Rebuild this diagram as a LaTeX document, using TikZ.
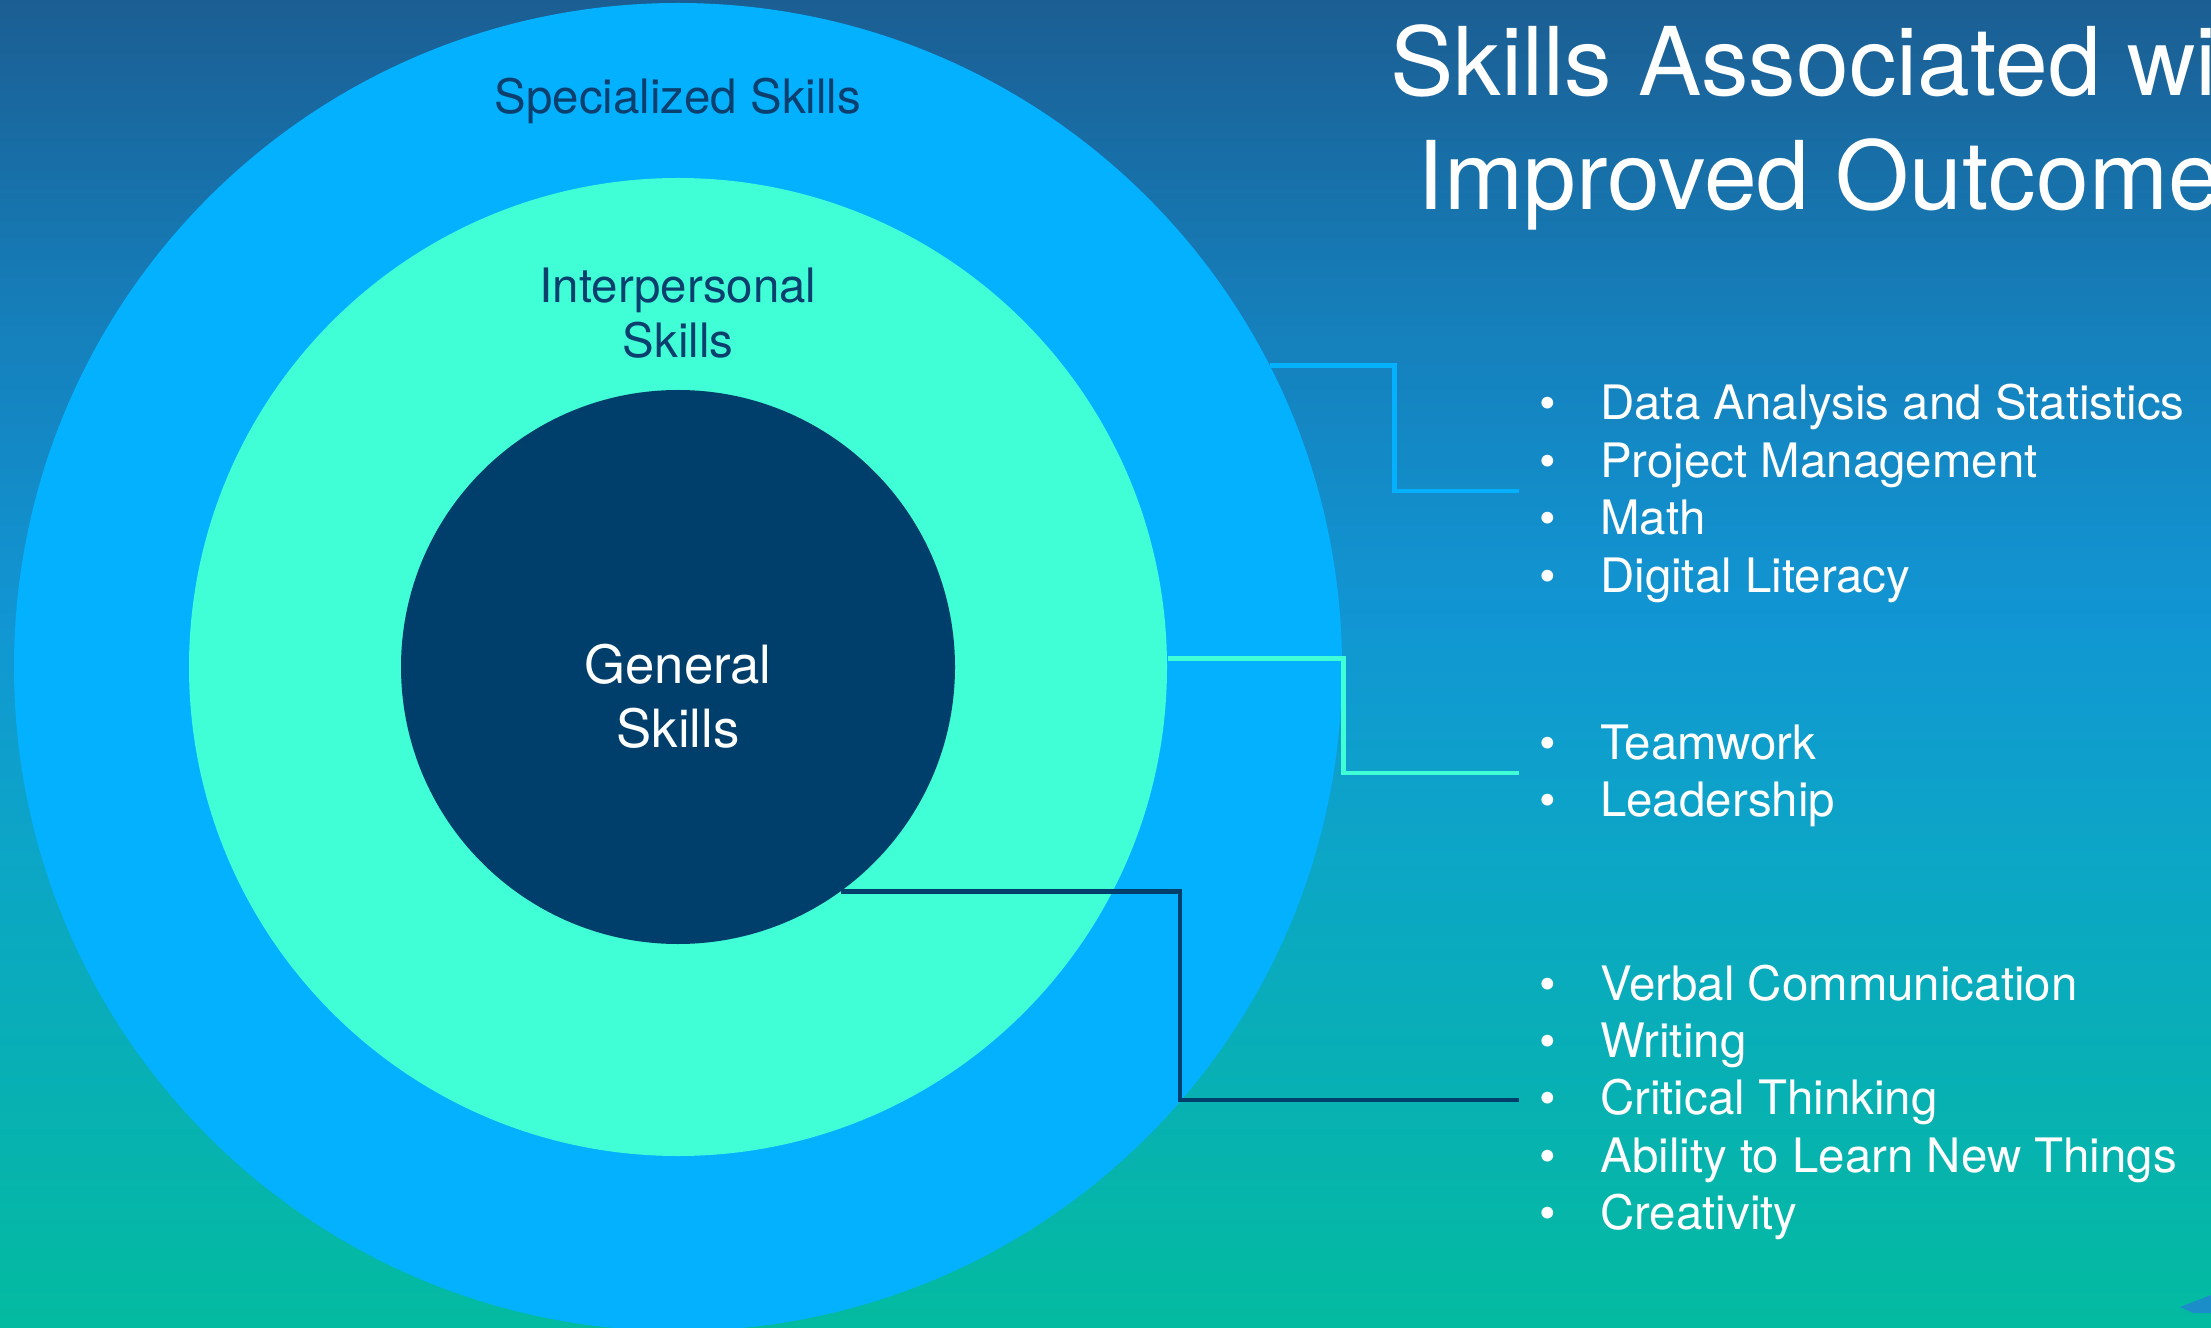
\documentclass[tikz,border=0pt]{standalone}
\usepackage{fontspec}
\setmainfont{TeX Gyre Heros}
\usetikzlibrary{calc}

% colours
\definecolor{bgtop}{HTML}{1B5E93}
\definecolor{bgf}{HTML}{1580BC}
\definecolor{bge}{HTML}{1196D3}
\definecolor{bgd}{HTML}{0CA6C6}
\definecolor{bgc}{HTML}{07B1B2}
\definecolor{bgbot}{HTML}{03BBA0}
\definecolor{specblue}{HTML}{03B1FF}
\definecolor{interaqua}{HTML}{40FFD6}
\definecolor{gennavy}{HTML}{003F6C}
\definecolor{labelnavy}{HTML}{0B3F6E}
\definecolor{logoblue}{HTML}{1B8DC8}

\pgfdeclareverticalshading{backfade}{100bp}{color(0bp)=(bgbot); color(25bp)=(bgbot);
  color(33.55bp)=(bgc); color(42.6bp)=(bgd); color(51.64bp)=(bge);
  color(62.57bp)=(bgf); color(75bp)=(bgtop); color(100bp)=(bgtop)}

\newcommand{\bul}{\makebox[6.05mm][l]{\textbullet}}

\begin{document}
\begin{tikzpicture}[
  ring/.style={circle,inner sep=0pt,draw=none},
  ringtext/.style={align=center,text=labelnavy,font=\fontsize{13.5}{15.6}\selectfont},
  link/.style={line width=1.3pt},
  skilllist/.style={anchor=west,align=left,text=white,inner xsep=2mm,inner ysep=0pt,
    font=\fontsize{13.5}{16.35}\selectfont}
]

% Background
\useasboundingbox (0,0) rectangle (22.11,13.27);
\clip (0,0) rectangle (22.11,13.27);
\shade[shading=backfade] (0,0) rectangle (22.11,13.27);

% corner piece
\fill[logoblue] (21.80,0.20) -- (22.11,0.32) -- (22.11,0.14) -- (21.93,0.14) -- cycle;

%------------------------------------------------
% Rings
%------------------------------------------------
\node[ring,fill=specblue,minimum size=13.28cm] (spec) at (6.78,6.60) {};
\node[ring,fill=interaqua,minimum size=9.78cm] (inter) at (spec.center) {};
\node[ring,fill=gennavy,minimum size=5.54cm] (gen) at (spec.center) {};

\node[ringtext] (speclabel) at (6.78,12.26) {Specialized Skills};
\node[ringtext] (interlabel) at (6.78,10.135) {Interpersonal\\Skills};
\node[ringtext,text=white,font=\fontsize{15}{18.2}\selectfont] (genlabel) at (6.78,6.305) {General\\Skills};

%------------------------------------------------
% Title and skill lists
%------------------------------------------------
\node[text=white,align=center,font=\fontsize{27}{32.4}\selectfont] (title) at (18.43,12.0)
  {Skills Associated with\\Improved Outcomes};

\node[skilllist] (speclist) at (15.19,8.36)
  {\strut\bul Data Analysis and Statistics\\ \bul Project Management\\ \bul Math\\ \bul Digital Literacy};
\node[skilllist] (interlist) at (15.19,5.54)
  {\strut\bul Teamwork\\ \bul Leadership};
\node[skilllist] (genlist) at (15.19,2.27)
  {\strut\bul Verbal Communication\\ \bul Writing\\ \bul Critical Thinking\\
   \bul Ability to Learn New Things\\ \bul Creativity};

% Connectors
\draw[link,specblue] (spec.27.1) -| ($(spec.27.1)!.5!(speclist.west)$) |- (speclist.west);
\draw[link,interaqua] (inter.1.8) -| ($(inter.1.8)!.5!(interlist.west)$) |- (interlist.west);
\draw[link,gennavy] (gen.-54) -| ($(gen.-54)!.5!(genlist.west)$) |- (genlist.west);

\end{tikzpicture}
\end{document}
